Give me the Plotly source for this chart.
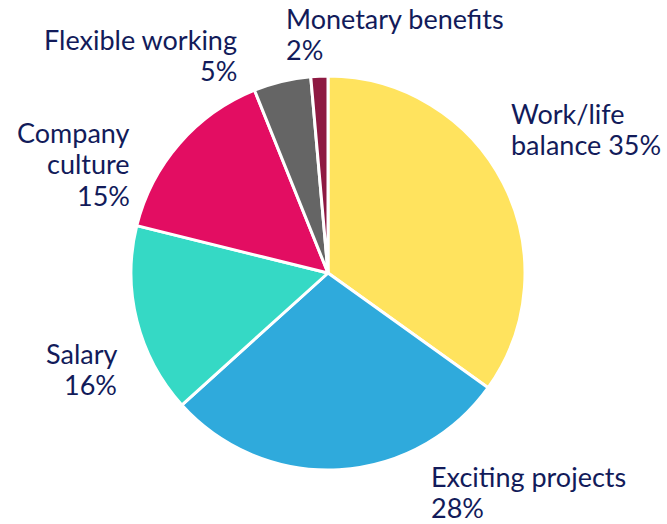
import plotly.graph_objects as go

categories = ["Work/life balance", "Exciting projects", "Salary", "Company culture",
              "Flexible working", "Monetary benefits"]
shares = [35, 28.5, 15.6, 15.1, 4.7, 1.4]
labels = ["Work/life<br>balance 35%", "Exciting projects<br>28%", "Salary<br>16%",
          "Company<br>culture<br>15%", "Flexible working<br>5%", "Monetary benefits<br>2%"]
colors = ["#FFE35E", "#2FAADC", "#35D9C5", "#E30D62", "#656565", "#8E1942"]

W, H = 667, 524
LINE = 31
# label anchor points in pixels: (x, centre of first line, side)
label_pos = [
    (509, 113, "left"),
    (429, 476, "left"),
    (119, 353, "right"),
    (132, 133, "right"),
    (239, 39, "right"),
    (284, 18, "left"),
]

fig = go.Figure()
fig.add_trace(go.Pie(
    labels=categories,
    values=shares,
    sort=False,
    direction="clockwise",
    rotation=0,
    textinfo="none",
    hoverinfo="label+percent",
    marker={"colors": colors, "line": {"color": "white", "width": 3}},
    domain={"x": [131 / W, 525 / W], "y": [1 - 470 / H, 1 - 76 / H]},
))

# one annotation per line so the line spacing can be tightened
for text, (px, py, side) in zip(labels, label_pos):
    for i, line in enumerate(text.split("<br>")):
        fig.add_annotation(
            text=line,
            x=px / W,
            y=1 - (py + i * LINE) / H,
            xref="paper",
            yref="paper",
            xanchor=side,
            yanchor="middle",
            showarrow=False,
            font={"family": "Lato", "size": 27, "color": "#121B5A"},
        )

fig.update_layout(
    width=W,
    height=H,
    showlegend=False,
    paper_bgcolor="white",
    margin={"l": 0, "r": 0, "t": 0, "b": 0},
)

fig.write_html("out.html", config={"displayModeBar": False},
               post_script="document.body.style.margin='0';")
